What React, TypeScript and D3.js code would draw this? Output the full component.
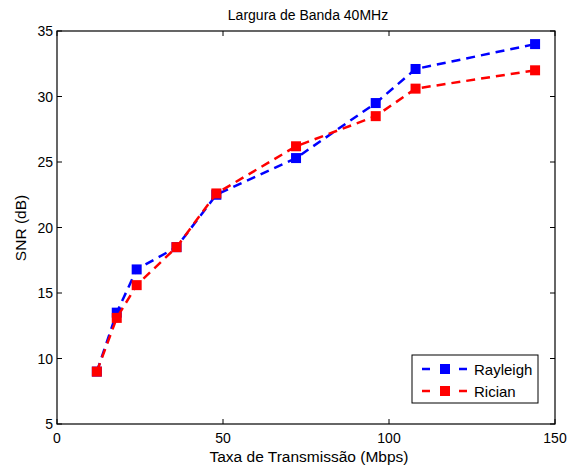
import React from "react";
import * as d3 from "d3";

const rates = [12, 18, 24, 36, 48, 72, 96, 108, 144];
const rayleigh = [9.0, 13.5, 16.8, 18.5, 22.5, 25.3, 29.5, 32.1, 34.0];
const rician = [9.0, 13.1, 15.6, 18.5, 22.6, 26.2, 28.5, 30.6, 32.0];
const xTicks = [0, 50, 100, 150];
const yTicks = [5, 10, 15, 20, 25, 30, 35];
const seriesNames = ["Rayleigh", "Rician"];
const seriesColors = ["#0000ff", "#ff0000"];

const W = 569, H = 470;
const L = 57, R = 555, T = 31, B = 424;
const FONT = "'Liberation Sans', Arial, sans-serif";

export default function App() {
  const x = d3.scaleLinear().domain([0, 150]).range([L, R]);
  const y = d3.scaleLinear().domain([5, 35]).range([B, T]);
  const line = d3.line<[number, number]>().x(d => x(d[0])).y(d => y(d[1]));
  const series = [rayleigh, rician];
  const ms = 10;
  return (
    <svg width={W} height={H} style={{ position: "absolute", left: 0, top: 0, background: "#fff" }}>
      <rect x={0} y={0} width={W} height={H} fill="#fff" />
      <text x={(L + R) / 2 + 2} y={20} textAnchor="middle" fontFamily={FONT} fontSize={14}>Largura de Banda 40MHz</text>
      {series.map((s, i) => (
        <g key={i}>
          <path d={line(rates.map((r, j) => [r, s[j]] as [number, number])) || ""} fill="none"
            stroke={seriesColors[i]} strokeWidth={2.5} strokeDasharray="9,6" />
          {rates.map((r, j) => (
            <rect key={j} x={x(r) - ms / 2} y={y(s[j]) - ms / 2} width={ms} height={ms} fill={seriesColors[i]} />
          ))}
        </g>
      ))}
      <rect x={L} y={T} width={R - L} height={B - T} fill="none" stroke="#000" strokeWidth={1.2} />
      {xTicks.map(t => (
        <g key={t}>
          <line x1={x(t)} x2={x(t)} y1={B} y2={B - 5} stroke="#000" />
          <line x1={x(t)} x2={x(t)} y1={T} y2={T + 5} stroke="#000" />
          <text x={x(t)} y={B + 19} textAnchor="middle" fontFamily={FONT} fontSize={14}>{t}</text>
        </g>
      ))}
      {yTicks.map(t => (
        <g key={t}>
          <line x1={L} x2={L + 5} y1={y(t)} y2={y(t)} stroke="#000" />
          <line x1={R} x2={R - 5} y1={y(t)} y2={y(t)} stroke="#000" />
          <text x={L - 4} y={y(t) + 5} textAnchor="end" fontFamily={FONT} fontSize={14}>{t}</text>
        </g>
      ))}
      <text x={(L + R) / 2 + 3} y={462} textAnchor="middle" fontFamily={FONT} fontSize={15.5}>Taxa de Transmissão (Mbps)</text>
      <text transform={`translate(26,228) rotate(-90)`} textAnchor="middle" fontFamily={FONT} fontSize={15.5}>SNR (dB)</text>
      <g>
        <rect x={412} y={355} width={126} height={48} fill="#fff" stroke="#000" strokeWidth={1} />
        {seriesNames.map((n, i) => {
          const yy = 369 + i * 22;
          return (
            <g key={n}>
              <line x1={422} x2={467} y1={yy} y2={yy} stroke={seriesColors[i]} strokeWidth={2.5} strokeDasharray="8,29" />
              <rect x={445 - ms / 2} y={yy - ms / 2} width={ms} height={ms} fill={seriesColors[i]} />
              <text x={474} y={yy + 5.5} fontFamily={FONT} fontSize={15}>{n}</text>
            </g>
          );
        })}
      </g>
    </svg>
  );
}
